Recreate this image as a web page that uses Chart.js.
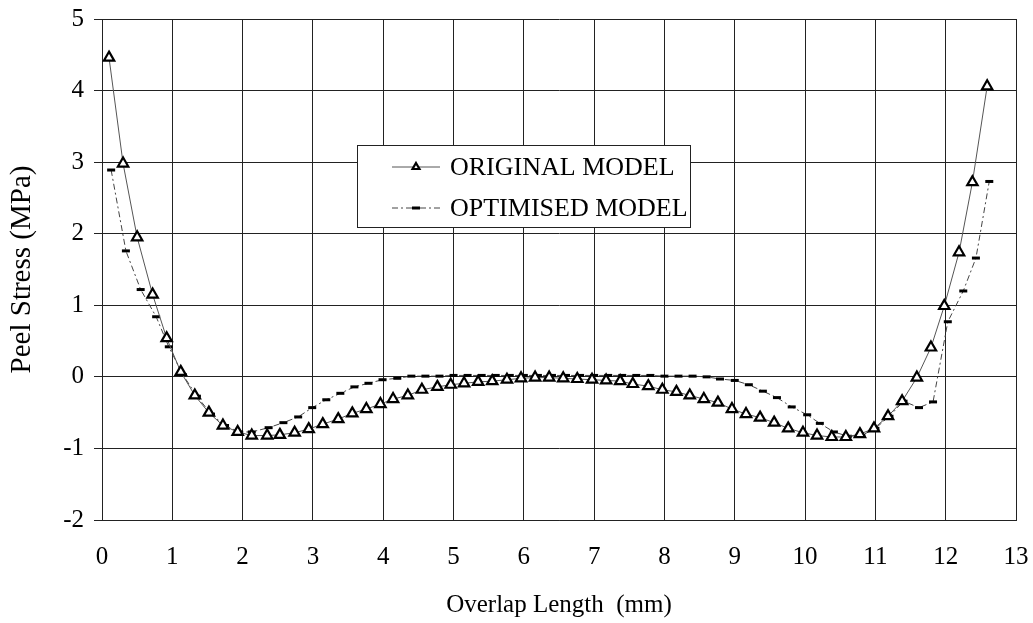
<!DOCTYPE html>
<html>
<head>
<meta charset="utf-8">
<script src="https://cdn.jsdelivr.net/npm/chart.js@4.4.1/dist/chart.umd.min.js"></script>
<style>
  html, body { margin: 0; padding: 0; background: #fff; }
  #wrap { width: 1033px; height: 623px; }
</style>
</head>
<body>
<div id="wrap"><canvas id="chart" width="1033" height="623"></canvas></div>
<script>
// tick labels
const xTickLabels = [0, 1, 2, 3, 4, 5, 6, 7, 8, 9, 10, 11, 12, 13];
const yTickLabels = [-2, -1, 0, 1, 2, 3, 4, 5];

// ORIGINAL MODEL (triangles)
const origX = [0.10, 0.30, 0.50, 0.72, 0.92, 1.12, 1.32, 1.52, 1.72, 1.93,
  2.13, 2.35, 2.53, 2.74, 2.94, 3.14, 3.36, 3.56, 3.76, 3.96,
  4.14, 4.35, 4.55, 4.77, 4.96, 5.15, 5.35, 5.55, 5.76, 5.96,
  6.16, 6.36, 6.56, 6.76, 6.97, 7.17, 7.37, 7.55, 7.77, 7.97,
  8.17, 8.36, 8.56, 8.76, 8.96, 9.16, 9.36, 9.56, 9.76, 9.97,
  10.17, 10.38, 10.58, 10.78, 10.98, 11.18, 11.38, 11.59, 11.79, 11.98,
  12.19, 12.38, 12.59];
const origY = [4.46, 2.98, 1.95, 1.15, 0.54, 0.07, -0.26, -0.50, -0.68, -0.77,
  -0.82, -0.82, -0.81, -0.78, -0.73, -0.66, -0.59, -0.51, -0.45, -0.38,
  -0.31, -0.26, -0.18, -0.14, -0.11, -0.09, -0.07, -0.06, -0.04, -0.02,
  -0.01, -0.01, -0.02, -0.03, -0.04, -0.05, -0.06, -0.10, -0.13, -0.18,
  -0.21, -0.26, -0.31, -0.36, -0.45, -0.52, -0.57, -0.64, -0.72, -0.78,
  -0.82, -0.84, -0.84, -0.80, -0.72, -0.55, -0.34, -0.01, 0.41, 0.99,
  1.74, 2.72, 4.06];

// OPTIMISED MODEL (dashes)
const optX = [0.13, 0.34, 0.55, 0.77, 0.95, 1.15, 1.35, 1.55, 1.75, 1.95,
  2.13, 2.37, 2.58, 2.79, 2.99, 3.19, 3.39, 3.59, 3.79, 3.99,
  4.20, 4.40, 4.60, 4.80, 5.00, 5.20, 5.40, 5.60, 5.80, 6.00,
  6.20, 6.40, 6.60, 6.80, 7.00, 7.20, 7.40, 7.60, 7.80, 8.00,
  8.20, 8.40, 8.60, 8.79, 9.00, 9.20, 9.40, 9.60, 9.81, 10.03,
  10.21, 10.41, 10.61, 10.80, 11.00, 11.20, 11.40, 11.62, 11.82, 12.03,
  12.25, 12.43, 12.62];
const optY = [2.89, 1.76, 1.22, 0.84, 0.42, 0.03, -0.27, -0.52, -0.68, -0.77,
  -0.77, -0.71, -0.64, -0.56, -0.43, -0.32, -0.23, -0.14, -0.09, -0.04,
  -0.02, 0.01, 0.01, 0.01, 0.02, 0.02, 0.02, 0.02, 0.02, 0.02,
  0.02, 0.02, 0.02, 0.02, 0.02, 0.02, 0.02, 0.02, 0.02, 0.01,
  0.01, 0.01, 0.00, -0.03, -0.05, -0.11, -0.20, -0.29, -0.42, -0.53,
  -0.65, -0.77, -0.83, -0.82, -0.72, -0.55, -0.34, -0.43, -0.35, 0.77,
  1.20, 1.66, 2.73];

const toPoints = (xs, ys) => xs.map((x, i) => ({ x: x, y: ys[i] }));

const serif = '"Liberation Serif", "Times New Roman", serif';

// legend drawn as a box inside the plot, like the original figure
const boxLegend = {
  id: 'boxLegend',
  afterDatasetsDraw(chart) {
    const ctx = chart.ctx;
    const x0 = 357, y0 = 145, w = 333, h = 82;
    ctx.save();
    ctx.fillStyle = '#fff';
    ctx.fillRect(x0, y0, w, h);
    ctx.strokeStyle = '#222';
    ctx.lineWidth = 1;
    ctx.strokeRect(x0 + 0.5, y0 + 0.5, w, h);
    chart.data.datasets.forEach((ds, i) => {
      const y = y0 + 22 + i * 41;
      ctx.strokeStyle = ds.borderColor;
      ctx.lineWidth = ds.borderWidth;
      ctx.setLineDash(ds.borderDash || []);
      ctx.beginPath();
      ctx.moveTo(392, y);
      ctx.lineTo(440, y);
      ctx.stroke();
      ctx.setLineDash([]);
      ctx.fillStyle = ds.pointBackgroundColor;
      ctx.strokeStyle = ds.pointBorderColor;
      ctx.lineWidth = ds.pointBorderWidth;
      Chart.helpers.drawPoint(ctx, {
        pointStyle: ds.pointStyle,
        radius: 4,
        borderWidth: ds.pointBorderWidth,
        rotation: 0
      }, 416, y);
      ctx.fillStyle = '#000';
      ctx.font = '26px ' + serif;
      ctx.textBaseline = 'middle';
      ctx.textAlign = 'left';
      ctx.fillText(ds.label, 450, y + 1);
    });
    ctx.restore();
  }
};

new Chart(document.getElementById('chart'), {
  type: 'line',
  data: {
    datasets: [
      {
        label: 'ORIGINAL MODEL',
        data: toPoints(origX, origY),
        borderColor: '#555',
        borderWidth: 1,
        pointStyle: 'triangle',
        pointRadius: 6,
        pointBorderWidth: 2.2,
        pointBorderColor: '#000',
        pointBackgroundColor: '#fff',
        tension: 0
      },
      {
        label: 'OPTIMISED MODEL',
        data: toPoints(optX, optY),
        borderColor: '#444',
        borderWidth: 1,
        borderDash: [6, 3, 2, 3],
        pointStyle: 'line',
        pointRadius: 4,
        pointBorderWidth: 3,
        pointBorderColor: '#000',
        pointBackgroundColor: '#000',
        tension: 0
      }
    ]
  },
  options: {
    responsive: false,
    animation: false,
    layout: { padding: { left: 0, right: 17, top: 19, bottom: 0 } },
    plugins: {
      legend: { display: false },
      tooltip: { enabled: false },
      title: { display: false }
    },
    scales: {
      x: {
        type: 'linear',
        min: 0,
        max: 13,
        afterBuildTicks: scale => { scale.ticks = xTickLabels.map(v => ({ value: v })); },
        afterFit: scale => {
          scale.height = 103;
          scale.paddingLeft = 0;
          scale.paddingRight = 0;
        },
        grid: { color: '#222', lineWidth: 1, drawTicks: false },
        border: { color: '#222' },
        ticks: { color: '#000', font: { family: serif, size: 25 }, padding: 22, maxRotation: 0 },
        title: {
          display: true,
          text: 'Overlap Length  (mm)',
          color: '#000',
          font: { family: serif, size: 25 },
          padding: { top: 0, bottom: 3 }
        }
      },
      y: {
        type: 'linear',
        min: -2,
        max: 5,
        afterBuildTicks: scale => { scale.ticks = yTickLabels.map(v => ({ value: v })); },
        afterFit: scale => {
          scale.width = 102;
          scale.paddingTop = 0;
          scale.paddingBottom = 0;
        },
        grid: { color: '#222', lineWidth: 1, drawTicks: true, tickLength: 8 },
        border: { color: '#222' },
        ticks: { color: '#000', font: { family: serif, size: 25 }, padding: 10 },
        title: {
          display: true,
          text: 'Peel Stress (MPa)',
          color: '#000',
          font: { family: serif, size: 29 },
          padding: { top: 5, bottom: 0 }
        }
      }
    }
  },
  plugins: [boxLegend]
});
</script>
</body>
</html>
